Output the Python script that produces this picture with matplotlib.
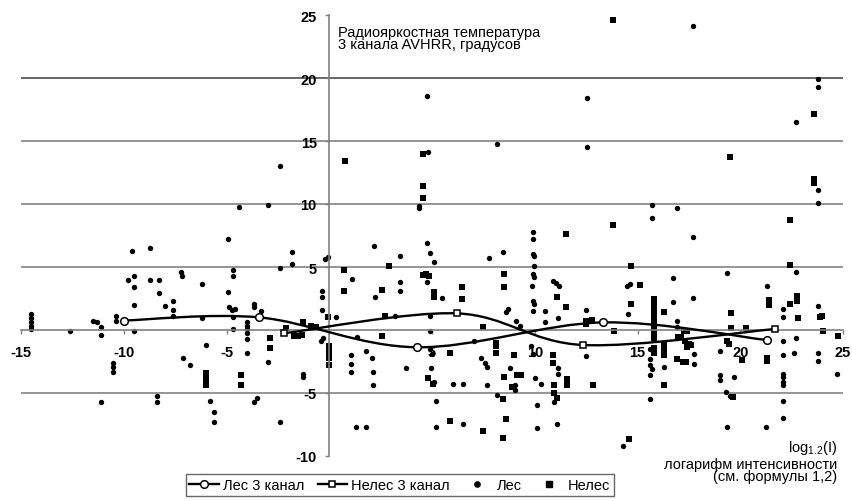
import numpy as np
import matplotlib
matplotlib.use('Agg')
import matplotlib.pyplot as plt
from matplotlib.path import Path
from matplotlib.patches import PathPatch
from matplotlib.lines import Line2D

plt.rcParams['font.family'] = ['Liberation Sans', 'DejaVu Sans']
plt.rcParams['mathtext.fontset'] = 'custom'
plt.rcParams['mathtext.rm'] = 'Liberation Sans'
plt.rcParams['mathtext.default'] = 'regular'

# smoothed mean curves
les3_x = [-10.0, -3.4, 4.25, 13.3, 21.3]
les3_y = [0.75, 1.0, -1.37, 0.6, -0.8]
neles3_x = [-2.2, 6.2, 12.35, 21.7]
neles3_y = [-0.26, 1.32, -1.19, 0.08]

# scatter "Лес" (forest)
les_x = [-14.5, -14.5, -14.5, -14.5, -14.5, -12.6, -11.5, -11.3, -11.1, -11.1,
         -10.4, -10.4, -10.5, -10.5, -10.5, -11.1, -9.6, -8.7, -9.8, -9.5,
         -9.5, -9.5, -9.5, -8.7, -8.3, -8.3, -8.0, -7.6, -7.6, -7.6,
         -8.4, -8.4, -7.2, -7.15, -7.1, -6.8, -6.2, -6.2, -6.0, -5.8,
         -5.6, -5.6, -4.95, -4.7, -4.7, -4.95, -4.9, -4.75, -4.6, -4.7,
         -4.7, -4.4, -3.0, -2.4, -3.65, -3.65, -3.3, -4.0, -4.0, -4.0,
         -4.0, -4.0, -4.0, -3.5, -3.65, -3.0, -2.4, -1.8, -1.8, -2.4,
         -0.2, -0.05, -1.3, -1.3, -0.35, -0.35, -0.35, 0.35, -0.3, -0.4,
         1.05, 1.05, 1.05, 1.1, 1.35, 1.8, 2.1, 2.15, 2.15, 2.2,
         2.25, 3.2, 1.3, 1.8, 3.45, 3.45, 3.45, 3.75, 4.75, 4.9,
         5.1, 4.75, 5.5, 4.9, 4.9, 4.9, 5.0, 4.95, 5.1, 6.0,
         6.5, 7.05, 7.4, 7.6, 7.7, 7.7, 8.8, 8.15, 5.2, 5.2,
         6.5, 7.75, 8.45, 8.7, 8.6, 9.1, 9.3, 9.9, 9.9, 9.9,
         9.95, 9.95, 9.9, 9.95, 9.85, 9.9, 9.95, 9.9, 10.5, 10.5,
         10.9, 11.05, 11.2, 11.15, 9.8, 9.9, 9.05, 9.05, 10.0, 10.3,
         10.1, 10.1, 11.15, 11.15, 10.95, 11.1, 12.5, 12.5, 14.55, 14.5,
         14.65, 15.6, 15.6, 15.6, 15.7, 15.6, 15.6, 16.75, 16.75, 16.9,
         16.9, 16.3, 14.3, 17.7, 17.75, 17.75, 19.35, 19.0, 19.0, 19.0,
         19.7, 19.3, 19.5, 19.35, 21.25, 21.3, 22.1, 22.1, 22.7, 23.8,
         22.1, 22.1, 22.7, 22.6, 23.8, 23.8, 24.7, 22.1, 22.1, 22.1,
         22.1, 22.1, 22.1, 16.9, 4.75, 12.55, 8.15, 12.55, 4.8, 4.35,
         4.35, 17.7, 23.8, 23.8, 22.7, 23.8, 23.8, 15.7, 15.7, 16.9,
         17.7]
les_y = [1.25, 0.95, 0.65, 0.35, 0.1, -0.1, 0.75, 0.6, 0.2, -0.4,
         1.1, 0.7, -2.6, -2.9, -3.3, -5.7, 6.3, 6.5, 4.0, 4.3,
         3.4, 2.0, -0.1, 4.0, 4.0, 2.9, 1.9, 2.3, 1.6, 1.1,
         -5.2, -5.7, 4.6, 4.3, -2.2, -2.8, 3.65, 0.95, -1.2, -5.6,
         -6.5, -7.3, 7.2, 4.8, 4.3, 3.0, 1.8, 1.6, 1.7, 1.0,
         0.05, 9.75, 9.9, 13.05, 2.1, 1.8, 1.5, 0.65, 0.35, 0.05,
         -0.2, -0.7, -1.8, -5.4, -5.7, -2.5, -7.3, 6.2, 5.2, 4.9,
         5.6, 5.8, -3.5, -3.75, 3.1, 2.65, 1.6, 1.0, -0.6, -0.85,
         -2.0, -2.7, -3.35, 4.05, -0.55, -1.65, -2.2, -3.3, -4.35, 6.65,
         2.65, 1.1, -7.7, -7.7, 5.85, 3.8, 3.1, -3.0, 6.9, 6.15,
         5.4, 3.8, 2.55, 1.1, -0.1, -1.5, -1.9, -3.0, -4.1, -4.3,
         -4.3, -0.85, -2.2, -2.6, -2.9, -4.4, -3.0, -5.15, -5.6, -7.7,
         -7.45, 5.75, 6.2, 1.7, 1.45, 0.75, 0.3, 7.2, 7.75, 6.05,
         5.85, 5.05, 4.45, 4.2, 3.5, 2.3, 2.1, 1.5, 1.5, 0.6,
         3.85, 3.7, 3.5, 0.95, -1.3, -1.9, -4.4, -4.8, -3.8, -4.3,
         -5.95, -7.75, -3.05, -3.5, -5.75, -7.45, 1.6, -2.05, 1.25, 3.5,
         3.65, -1.5, -2.3, -2.8, -3.1, -3.6, -5.45, 4.1, 2.2, 0.7,
         -0.65, -2.9, -9.2, 2.55, -1.9, -2.7, 4.5, -1.7, -3.55, -4.0,
         -3.75, -4.9, -5.2, -7.7, -7.7, 3.5, 1.7, 1.05, 4.6, 1.9,
         -0.9, -2.0, -0.6, -1.8, -1.8, -2.45, -3.5, -3.5, -3.75, -4.1,
         -4.4, -5.6, -7.0, 0.2, 18.6, 18.4, 14.8, 14.5, 14.1, 9.85,
         9.65, 24.1, 19.9, 19.3, 16.5, 11.1, 10.1, 9.95, 8.9, 9.7,
         7.4]

# scatter "Нелес" (non-forest)
neles_x = [-6.0, -6.0, -6.0, -6.0, -4.3, -4.3, -2.9, -2.9, -2.1, -1.7,
           -1.5, -1.35, -1.3, -0.9, -0.8, -0.65, -0.05, -0.03, -0.03, -0.03,
           -0.03, -0.03, -0.03, 0.72, 0.72, 0.75, 2.55, 2.55, 2.7, 2.9,
           4.55, 4.7, 4.85, 5.1, 5.1, 6.45, 6.45, 8.5, 8.5, 7.5,
           5.9, 8.1, 8.1, 8.1, 9.0, 4.8, 5.05, 8.5, 9.15, 9.35,
           8.9, 8.45, 5.9, 7.5, 8.6, 8.45, 10.9, 10.9, 11.55, 11.55,
           10.95, 10.95, 11.1, 11.1, 11.5, 12.5, 12.5, 12.8, 13.85, 12.85,
           14.7, 15.1, 14.7, 15.8, 15.8, 15.8, 15.8, 15.8, 15.8, 15.8,
           15.8, 15.8, 15.8, 15.8, 16.3, 16.3, 16.3, 16.3, 16.3, 16.9,
           14.6, 17.25, 17.4, 16.95, 17.1, 17.3, 17.5, 17.4, 17.6, 17.2,
           17.35, 19.55, 19.55, 20.3, 19.35, 19.45, 20.1, 21.3, 21.3, 19.65,
           21.4, 21.4, 22.4, 22.4, 22.75, 22.75, 22.8, 24.0, 23.9, 24.05,
           24.75, 4.55, 4.55, 4.55, 11.5, 13.8, 23.6, 19.5, 23.6, 23.6,
           22.4, 13.8]
neles_y = [-3.4, -3.8, -4.1, -4.4, -3.6, -4.4, -0.6, -1.4, 0.15, -0.45,
           -0.45, -0.4, 0.65, 0.35, 0.15, 0.2, 1.0, -1.25, -1.5, -1.75,
           -2.0, -2.2, -2.8, 4.8, 3.1, 13.45, 3.15, -0.45, 1.1, 5.05,
           4.4, 4.45, 4.3, 3.0, 2.65, 3.45, 2.5, 4.45, 3.4, 0.2,
           -1.8, -1.0, -1.3, -1.8, -2.0, -3.8, -4.3, -3.7, -3.6, -3.6,
           -4.5, -5.5, -7.25, -8.0, -7.1, -8.6, -2.0, -2.6, -3.9, -4.4,
           -4.35, -5.0, -5.4, 2.6, 1.8, 0.75, 0.45, 0.8, -0.1, -4.35,
           5.1, 3.55, 2.05, 2.5, 2.1, 1.7, 1.3, 0.9, 0.5, 0.1,
           -0.3, -0.6, -1.4, -1.8, 1.4, -1.2, -1.6, -2.0, -4.4, -2.3,
           -8.65, -0.05, -0.05, -0.55, -0.55, -0.85, -1.1, -1.35, -1.2, -2.55,
           -2.55, 1.35, 0.15, 0.15, -0.9, -1.15, -2.4, -2.2, -2.45, -5.35,
           2.4, 2.0, 5.15, 2.05, 2.7, 2.3, 0.95, 1.15, 1.05, -0.1,
           -0.45, 13.95, 11.4, 10.45, 7.6, 24.6, 17.15, 13.75, 12.0, 11.7,
           8.7, 8.3]

x_ticks = [-15, -10, -5, 0, 5, 10, 15, 20, 25]
x_tick_labels = ['-15', '-10', '-5', '', '5', '10', '15', '20', '25']
y_ticks = [-10, -5, 0, 5, 10, 15, 20, 25]
y_tick_labels = ['-10', '-5', '', '5', '10', '15', '20', '25']
grid_levels = [-5, 5, 10, 15, 20]

title_text = 'Радиояркостная температура\n3 канала AVHRR, градусов'
legend_labels = ['Лес 3 канал', 'Нелес 3 канал', 'Лес', 'Нелес']


def smooth_path(xs, ys):
    # bezier through the points, like the smoothed line of a spreadsheet
    pts = np.column_stack([xs, ys])
    n = len(pts)
    verts = [pts[0]]
    codes = [Path.MOVETO]
    for i in range(n - 1):
        p0 = pts[max(i - 1, 0)]
        p1 = pts[i]
        p2 = pts[i + 1]
        p3 = pts[min(i + 2, n - 1)]
        verts += [p1 + (p2 - p0) / 6.0, p2 - (p3 - p1) / 6.0, p2]
        codes += [Path.CURVE4] * 3
    return Path(verts, codes)


fig = plt.figure(figsize=(8.52, 5.02), dpi=100)
ax = fig.add_axes([21 / 852, 45 / 502, 822 / 852, 441 / 502])
ax.set_xlim(-15, 25)
ax.set_ylim(-10, 25)

for lv in grid_levels:
    # the 20 line comes out darker in the original
    ax.axhline(lv, color='#5a5a5a' if lv == 20 else '#8c8c8c', lw=1.3, zorder=0)

ax.scatter(les_x, les_y, s=15, marker='o', color='k', lw=0, zorder=2)
ax.scatter(neles_x, neles_y, s=16, marker='s', color='k', lw=0, zorder=2)

for xs, ys, mk in [(les3_x, les3_y, 'o'), (neles3_x, neles3_y, 's')]:
    ax.add_patch(PathPatch(smooth_path(xs, ys), fc='none', ec='k', lw=1.7, zorder=3))
    ax.plot(xs, ys, ls='none', marker=mk, mfc='white', mec='k',
            ms=5.5 if mk == 'o' else 5, mew=1.1, zorder=4)

for side in ['top', 'right']:
    ax.spines[side].set_visible(False)
ax.spines['left'].set_position(('data', 0))
ax.spines['bottom'].set_position(('data', 0))
for side in ['left', 'bottom']:
    ax.spines[side].set_color('#808080')
    ax.spines[side].set_linewidth(1.2)

ax.set_xticks(x_ticks)
ax.set_xticklabels(x_tick_labels, fontweight='bold')
ax.set_yticks(y_ticks)
ax.set_yticklabels(y_tick_labels, fontweight='bold')
ax.tick_params(axis='x', direction='out', length=3, width=1, color='#808080',
               pad=8, labelsize=10.5)
ax.tick_params(axis='y', direction='out', length=3, width=1, color='#808080',
               pad=6, labelsize=10.5)

ax.text(0.44, 24.2, title_text, ha='left', va='top', fontsize=10.5,
        linespacing=0.85)
ax.text(24.7, -8.55, 'log$_{1.2}$(I)', ha='right', va='top', fontsize=10.5)
ax.text(24.7, -10.05, 'логарифм интенсивности\n(см. формулы 1,2)', ha='right',
        va='top', fontsize=10.5, linespacing=0.85, multialignment='right',
        clip_on=False)

handles = [
    Line2D([], [], color='k', lw=1.7, marker='o', mfc='white', mec='k', ms=5.5, mew=1.1),
    Line2D([], [], color='k', lw=1.7, marker='s', mfc='white', mec='k', ms=5, mew=1.1),
    Line2D([], [], ls='none', marker='o', color='k', ms=3.8),
    Line2D([], [], ls='none', marker='s', color='k', ms=3.8),
]
leg = fig.legend(handles, legend_labels, loc='center', bbox_to_anchor=(400 / 852, 16 / 502),
                 ncol=4, fontsize=10.5, frameon=True, fancybox=False, edgecolor='#404040',
                 handlelength=2.0, handletextpad=0.3, columnspacing=0.9, borderpad=0.25,
                 borderaxespad=0)
leg.get_frame().set_linewidth(1.0)

fig.savefig('out.png', dpi=100)
